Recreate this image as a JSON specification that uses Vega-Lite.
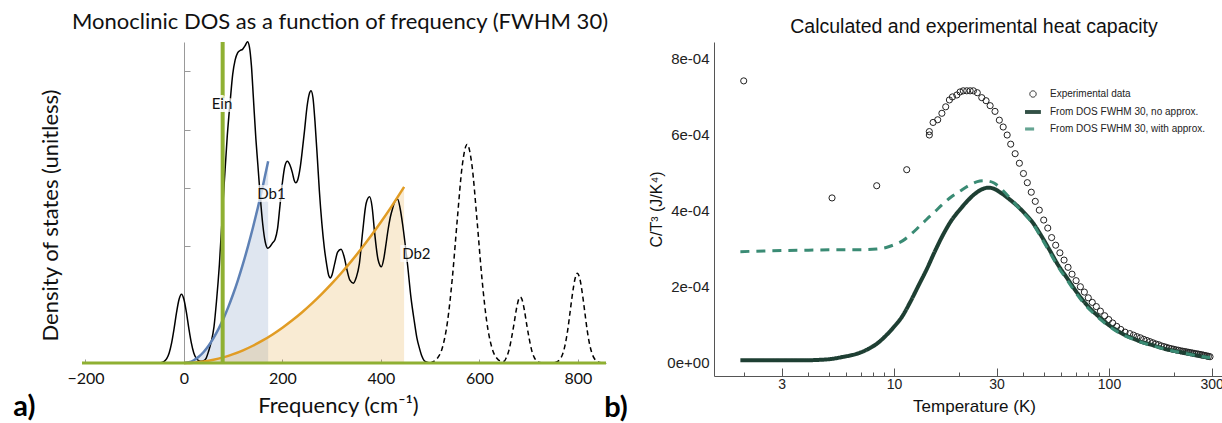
{
  "$schema": "https://vega.github.io/schema/vega-lite/v6.json",
  "background": "white",
  "padding": {"left": 13, "top": 10, "right": 0, "bottom": 0},
  "spacing": 108,
  "bounds": "flush",
  "config": {"view": {"stroke": null}, "axis": {"grid": false}, "title": {"fontWeight": "normal"}},
  "datasets": {
    "dosS": [
      {"f": -207, "v": 0}, {"f": -60, "v": 0}, {"f": -50, "v": 0.002}, {"f": -45, "v": 0.0085}, {"f": -40, "v": 0.027},
      {"f": -35, "v": 0.074}, {"f": -30, "v": 0.172}, {"f": -25, "v": 0.345}, {"f": -20, "v": 0.59}, {"f": -15, "v": 0.867},
      {"f": -10, "v": 1.09}, {"f": -5, "v": 1.18}, {"f": 0, "v": 1.09}, {"f": 5, "v": 0.867}, {"f": 10, "v": 0.59},
      {"f": 15, "v": 0.345}, {"f": 20, "v": 0.172}, {"f": 25, "v": 0.08}, {"f": 30, "v": 0.04}, {"f": 35, "v": 0.03},
      {"f": 40, "v": 0.04}, {"f": 45, "v": 0.08}, {"f": 50, "v": 0.2}, {"f": 55, "v": 0.35}, {"f": 61, "v": 0.62},
      {"f": 66, "v": 1.05}, {"f": 72, "v": 1.69}, {"f": 80, "v": 2.84}, {"f": 88, "v": 3.9}, {"f": 94, "v": 4.5},
      {"f": 99, "v": 4.95}, {"f": 104, "v": 5.2}, {"f": 109, "v": 5.32}, {"f": 114, "v": 5.36}, {"f": 119, "v": 5.38},
      {"f": 124, "v": 5.44}, {"f": 129, "v": 5.51}, {"f": 133, "v": 5.42}, {"f": 137, "v": 5.1}, {"f": 141, "v": 4.55},
      {"f": 146, "v": 3.85}, {"f": 150, "v": 3.41}, {"f": 155, "v": 2.85}, {"f": 160, "v": 2.38}, {"f": 165, "v": 2.08},
      {"f": 170, "v": 1.97}, {"f": 175, "v": 2.0}, {"f": 180, "v": 2.06}, {"f": 185, "v": 2.12}, {"f": 190, "v": 2.3},
      {"f": 195, "v": 2.7}, {"f": 200, "v": 3.1}, {"f": 205, "v": 3.38}, {"f": 210, "v": 3.46}, {"f": 215, "v": 3.4},
      {"f": 220, "v": 3.27}, {"f": 224, "v": 3.13}, {"f": 227, "v": 3.09}, {"f": 231, "v": 3.14}, {"f": 236, "v": 3.35},
      {"f": 240, "v": 3.62}, {"f": 245, "v": 4.0}, {"f": 250, "v": 4.4}, {"f": 254, "v": 4.6}, {"f": 258, "v": 4.67},
      {"f": 262, "v": 4.55}, {"f": 266, "v": 4.15}, {"f": 271, "v": 3.5}, {"f": 275, "v": 2.95}, {"f": 280, "v": 2.4},
      {"f": 285, "v": 1.98}, {"f": 290, "v": 1.68}, {"f": 294, "v": 1.5}, {"f": 297, "v": 1.46}, {"f": 301, "v": 1.52},
      {"f": 306, "v": 1.7}, {"f": 312, "v": 1.9}, {"f": 319, "v": 1.95}, {"f": 325, "v": 1.83}, {"f": 331, "v": 1.6},
      {"f": 337, "v": 1.42}, {"f": 344, "v": 1.37}, {"f": 350, "v": 1.47}, {"f": 356, "v": 1.69}, {"f": 363, "v": 2.26},
      {"f": 370, "v": 2.74}, {"f": 377, "v": 2.85}, {"f": 382, "v": 2.68}, {"f": 387, "v": 2.25}, {"f": 394, "v": 1.78},
      {"f": 401, "v": 1.65}, {"f": 406, "v": 1.8}, {"f": 410, "v": 2.02}, {"f": 414, "v": 2.26}, {"f": 419, "v": 2.5},
      {"f": 424, "v": 2.66}, {"f": 429, "v": 2.78}, {"f": 434, "v": 2.81}, {"f": 439, "v": 2.65}, {"f": 444, "v": 2.38},
      {"f": 449, "v": 2.05}, {"f": 454, "v": 1.69}, {"f": 461, "v": 1.12}, {"f": 468, "v": 0.7}, {"f": 473, "v": 0.43},
      {"f": 478, "v": 0.26}, {"f": 483, "v": 0.12}, {"f": 488, "v": 0.04}, {"f": 495, "v": 0.01}, {"f": 500, "v": 0}
    ],
    "dosD": [
      {"f": 500, "v": 0}, {"f": 505, "v": 0.02}, {"f": 515, "v": 0.085}, {"f": 525, "v": 0.27}, {"f": 535, "v": 0.7},
      {"f": 545, "v": 1.46}, {"f": 555, "v": 2.46}, {"f": 565, "v": 3.38}, {"f": 575, "v": 3.75}, {"f": 585, "v": 3.38},
      {"f": 595, "v": 2.46}, {"f": 605, "v": 1.46}, {"f": 615, "v": 0.7}, {"f": 625, "v": 0.27}, {"f": 635, "v": 0.085},
      {"f": 645, "v": 0.03}, {"f": 650, "v": 0.03}, {"f": 655, "v": 0.1}, {"f": 660, "v": 0.22}, {"f": 665, "v": 0.42},
      {"f": 670, "v": 0.66}, {"f": 675, "v": 0.92}, {"f": 680, "v": 1.1}, {"f": 683, "v": 1.13}, {"f": 686, "v": 1.1},
      {"f": 691, "v": 0.92}, {"f": 696, "v": 0.66}, {"f": 701, "v": 0.42}, {"f": 706, "v": 0.22}, {"f": 711, "v": 0.1},
      {"f": 716, "v": 0.035}, {"f": 722, "v": 0.008}, {"f": 730, "v": 0}, {"f": 750, "v": 0.004}, {"f": 754, "v": 0.009},
      {"f": 759, "v": 0.026}, {"f": 764, "v": 0.068}, {"f": 769, "v": 0.154}, {"f": 774, "v": 0.31}, {"f": 779, "v": 0.55},
      {"f": 784, "v": 0.87}, {"f": 789, "v": 1.19}, {"f": 794, "v": 1.44}, {"f": 799, "v": 1.54}, {"f": 804, "v": 1.44},
      {"f": 809, "v": 1.19}, {"f": 814, "v": 0.87}, {"f": 819, "v": 0.55}, {"f": 824, "v": 0.31}, {"f": 829, "v": 0.154},
      {"f": 834, "v": 0.068}, {"f": 839, "v": 0.026}, {"f": 844, "v": 0.009}, {"f": 855, "v": 0}
    ],
    "db1": [
      {"f": 0, "v": 0}, {"f": 10, "v": 0.0118}, {"f": 20, "v": 0.0473}, {"f": 30, "v": 0.1065}, {"f": 40, "v": 0.1893},
      {"f": 50, "v": 0.2958}, {"f": 60, "v": 0.426}, {"f": 70, "v": 0.58}, {"f": 80, "v": 0.757}, {"f": 90, "v": 0.958},
      {"f": 100, "v": 1.183}, {"f": 110, "v": 1.432}, {"f": 120, "v": 1.704}, {"f": 130, "v": 2.0}, {"f": 140, "v": 2.319},
      {"f": 150, "v": 2.662}, {"f": 160, "v": 3.029}, {"f": 171, "v": 3.46}
    ],
    "db2": [
      {"f": 0, "v": 0}, {"f": 20, "v": 0.006}, {"f": 40, "v": 0.0242}, {"f": 60, "v": 0.0544}, {"f": 80, "v": 0.0967},
      {"f": 100, "v": 0.151}, {"f": 120, "v": 0.218}, {"f": 140, "v": 0.296}, {"f": 160, "v": 0.387}, {"f": 180, "v": 0.49},
      {"f": 200, "v": 0.605}, {"f": 220, "v": 0.732}, {"f": 240, "v": 0.871}, {"f": 260, "v": 1.022}, {"f": 280, "v": 1.185},
      {"f": 300, "v": 1.36}, {"f": 320, "v": 1.548}, {"f": 340, "v": 1.747}, {"f": 360, "v": 1.959}, {"f": 380, "v": 2.182},
      {"f": 400, "v": 2.418}, {"f": 420, "v": 2.666}, {"f": 440, "v": 2.926}, {"f": 447, "v": 3.02}
    ],
    "base": [{"f": -207, "v": 0}, {"f": 857, "v": 0}],
    "ein": [{"f": 78.6, "v": 0, "v2": 5.506}],
    "labs": [
      {"f": 77.2, "v": 4.44, "label": "Ein"},
      {"f": 177.7, "v": 2.9, "label": "Db1"},
      {"f": 472, "v": 1.875, "label": "Db2"}
    ],
    "exp": [
      {"T": 2.0, "v": 7.4}, {"T": 5.15, "v": 4.33}, {"T": 8.31, "v": 4.65}, {"T": 11.46, "v": 5.07}, {"T": 14.6, "v": 6.07},
      {"T": 14.6, "v": 5.98}, {"T": 15.2, "v": 6.31}, {"T": 15.97, "v": 6.38}, {"T": 16.7, "v": 6.55}, {"T": 17.4, "v": 6.72},
      {"T": 18.1, "v": 6.9}, {"T": 18.7, "v": 6.98}, {"T": 19.6, "v": 7.03}, {"T": 20.3, "v": 7.11}, {"T": 21.0, "v": 7.14},
      {"T": 21.8, "v": 7.14}, {"T": 22.6, "v": 7.14}, {"T": 23.4, "v": 7.14}, {"T": 24.4, "v": 7.09}, {"T": 25.6, "v": 6.96},
      {"T": 26.8, "v": 6.88}, {"T": 28.0, "v": 6.75}, {"T": 29.5, "v": 6.6}, {"T": 30.9, "v": 6.37}, {"T": 32.2, "v": 6.19},
      {"T": 33.6, "v": 5.98}, {"T": 34.9, "v": 5.74}, {"T": 36.6, "v": 5.49}, {"T": 38.3, "v": 5.24}, {"T": 40.0, "v": 4.97},
      {"T": 41.7, "v": 4.73}, {"T": 43.5, "v": 4.48}, {"T": 45.4, "v": 4.24}, {"T": 47.4, "v": 4.01}, {"T": 49.7, "v": 3.75},
      {"T": 51.9, "v": 3.54}, {"T": 54.1, "v": 3.29}, {"T": 56.5, "v": 3.09}, {"T": 59.1, "v": 2.89}, {"T": 61.8, "v": 2.7},
      {"T": 64.5, "v": 2.51}, {"T": 67.3, "v": 2.33}, {"T": 70.3, "v": 2.16}, {"T": 73.6, "v": 2.0}, {"T": 76.8, "v": 1.86},
      {"T": 80.1, "v": 1.71}, {"T": 83.6, "v": 1.59}, {"T": 87.3, "v": 1.48}, {"T": 91.2, "v": 1.36}, {"T": 95.5, "v": 1.24},
      {"T": 99.7, "v": 1.14}, {"T": 104, "v": 1.05}, {"T": 108.6, "v": 0.96}, {"T": 113.4, "v": 0.88}, {"T": 118.7, "v": 0.81},
      {"T": 125, "v": 0.77}, {"T": 130, "v": 0.73}, {"T": 135, "v": 0.69}, {"T": 140, "v": 0.66}, {"T": 145, "v": 0.62},
      {"T": 150, "v": 0.59}, {"T": 155, "v": 0.56}, {"T": 160, "v": 0.53}, {"T": 165, "v": 0.5}, {"T": 170, "v": 0.48},
      {"T": 175, "v": 0.45}, {"T": 180, "v": 0.43}, {"T": 185, "v": 0.41}, {"T": 190, "v": 0.39}, {"T": 195, "v": 0.375},
      {"T": 200, "v": 0.36}, {"T": 205, "v": 0.345}, {"T": 210, "v": 0.335}, {"T": 215, "v": 0.32}, {"T": 220, "v": 0.31},
      {"T": 225, "v": 0.3}, {"T": 230, "v": 0.29}, {"T": 235, "v": 0.28}, {"T": 240, "v": 0.27}, {"T": 245, "v": 0.26},
      {"T": 250, "v": 0.25}, {"T": 255, "v": 0.24}, {"T": 260, "v": 0.235}, {"T": 265, "v": 0.225}, {"T": 270, "v": 0.215},
      {"T": 275, "v": 0.205}, {"T": 280, "v": 0.195}, {"T": 285, "v": 0.185}, {"T": 290, "v": 0.175}, {"T": 295, "v": 0.165}
    ],
    "calcN": [
      {"T": 1.93, "v": 0.07}, {"T": 2.5, "v": 0.07}, {"T": 3, "v": 0.07}, {"T": 3.5, "v": 0.07}, {"T": 4, "v": 0.072},
      {"T": 4.4, "v": 0.08}, {"T": 5, "v": 0.1}, {"T": 5.8, "v": 0.16}, {"T": 6.4, "v": 0.21}, {"T": 6.95, "v": 0.27},
      {"T": 7.6, "v": 0.37}, {"T": 8.3, "v": 0.5}, {"T": 9.1, "v": 0.7}, {"T": 9.9, "v": 0.92}, {"T": 11, "v": 1.25},
      {"T": 11.9, "v": 1.6}, {"T": 13, "v": 2.03}, {"T": 14.2, "v": 2.46}, {"T": 15.5, "v": 2.93}, {"T": 16.9, "v": 3.36},
      {"T": 18.5, "v": 3.74}, {"T": 20.3, "v": 4.03}, {"T": 22.2, "v": 4.28}, {"T": 24.2, "v": 4.47}, {"T": 26, "v": 4.57},
      {"T": 27.5, "v": 4.6}, {"T": 29.2, "v": 4.57}, {"T": 31.1, "v": 4.48}, {"T": 34.7, "v": 4.28}, {"T": 37.3, "v": 4.13},
      {"T": 40, "v": 3.96}, {"T": 44.5, "v": 3.66}, {"T": 48.5, "v": 3.33}, {"T": 53.2, "v": 2.94}, {"T": 58, "v": 2.57},
      {"T": 63.6, "v": 2.24}, {"T": 69.5, "v": 1.92}, {"T": 76, "v": 1.63}, {"T": 83, "v": 1.39}, {"T": 90.8, "v": 1.19},
      {"T": 99, "v": 1.01}, {"T": 108.6, "v": 0.86}, {"T": 118, "v": 0.74}, {"T": 129.8, "v": 0.64}, {"T": 142, "v": 0.55},
      {"T": 155, "v": 0.49}, {"T": 170, "v": 0.42}, {"T": 185, "v": 0.36}, {"T": 200, "v": 0.32}, {"T": 222, "v": 0.27},
      {"T": 250, "v": 0.21}, {"T": 284, "v": 0.15}, {"T": 295, "v": 0.14}
    ],
    "calcW": [
      {"T": 1.93, "v": 2.92}, {"T": 2.5, "v": 2.94}, {"T": 3, "v": 2.95}, {"T": 4, "v": 2.96}, {"T": 5, "v": 2.97},
      {"T": 6, "v": 2.97}, {"T": 6.95, "v": 2.97}, {"T": 8.3, "v": 2.99}, {"T": 9.2, "v": 3.03}, {"T": 9.9, "v": 3.09},
      {"T": 11, "v": 3.21}, {"T": 11.9, "v": 3.36}, {"T": 13, "v": 3.56}, {"T": 14.2, "v": 3.77}, {"T": 15.5, "v": 3.97},
      {"T": 16.9, "v": 4.17}, {"T": 18.5, "v": 4.36}, {"T": 20.3, "v": 4.51}, {"T": 22.2, "v": 4.65}, {"T": 24.2, "v": 4.75},
      {"T": 26, "v": 4.78}, {"T": 27.5, "v": 4.77}, {"T": 29.2, "v": 4.72}, {"T": 31.1, "v": 4.6}, {"T": 34.7, "v": 4.32},
      {"T": 37.3, "v": 4.12}, {"T": 40, "v": 3.94}, {"T": 44.5, "v": 3.63}, {"T": 48.5, "v": 3.28}, {"T": 53.2, "v": 2.89},
      {"T": 58, "v": 2.52}, {"T": 63.6, "v": 2.19}, {"T": 69.5, "v": 1.87}, {"T": 76, "v": 1.58}, {"T": 83, "v": 1.35},
      {"T": 90.8, "v": 1.15}, {"T": 99, "v": 0.98}, {"T": 108.6, "v": 0.83}, {"T": 118, "v": 0.72}, {"T": 129.8, "v": 0.62},
      {"T": 142, "v": 0.54}, {"T": 155, "v": 0.47}, {"T": 170, "v": 0.41}, {"T": 185, "v": 0.35}, {"T": 200, "v": 0.31},
      {"T": 222, "v": 0.26}, {"T": 250, "v": 0.2}, {"T": 284, "v": 0.15}, {"T": 295, "v": 0.14}
    ]
  },
  "hconcat": [
    {
      "width": 524,
      "height": 321,
      "title": {"text": "Monoclinic DOS as a function of frequency (FWHM 30)", "font": "Lato", "fontSize": 22, "color": "#111", "dx": -4, "offset": 5},
      "encoding": {
        "x": {"field": "f", "type": "quantitative", "scale": {"domain": [-207, 857], "nice": false, "zero": false},
          "axis": {"title": "Frequency (cm⁻¹)", "values": [-200, 0, 200, 400, 600, 800], "tickSize": -4, "domainColor": "#999", "tickColor": "#999",
            "labelFont": "Lato", "labelFontSize": 16, "labelColor": "#111", "labelPadding": 11,
            "titleFont": "Lato", "titleFontSize": 22, "titleFontWeight": "normal", "titleColor": "#111", "titlePadding": 9, "titleX": 256}},
        "y": {"field": "v", "type": "quantitative", "scale": {"domain": [0, 5.506], "nice": false},
          "axis": {"title": "Density of states (unitless)", "values": [2, 3, 4, 5], "labels": false, "tickSize": -6, "offset": -102,
            "domainColor": "#999", "tickColor": "#999",
            "titleFont": "Lato", "titleFontSize": 22, "titleFontWeight": "normal", "titleColor": "#111", "titleX": -122, "titleY": 173}}
      },
      "layer": [
        {"data": {"name": "db1"}, "mark": {"type": "area", "color": "#5e81b5", "opacity": 0.2, "interpolate": "monotone"}},
        {"data": {"name": "db2"}, "mark": {"type": "area", "color": "#e19c24", "opacity": 0.2, "interpolate": "monotone"}},
        {"data": {"name": "dosS"}, "mark": {"type": "line", "color": "#000000", "strokeWidth": 1.5, "interpolate": "monotone"}},
        {"data": {"name": "dosD"}, "mark": {"type": "line", "color": "#000000", "strokeWidth": 1.5, "strokeDash": [5, 3.5], "interpolate": "monotone"}},
        {"data": {"name": "db1"}, "mark": {"type": "line", "color": "#5e81b5", "strokeWidth": 2.5, "interpolate": "monotone"}},
        {"data": {"name": "db2"}, "mark": {"type": "line", "color": "#e19c24", "strokeWidth": 2.5, "interpolate": "monotone"}},
        {"data": {"name": "base"}, "mark": {"type": "line", "color": "#8fb032", "strokeWidth": 3}},
        {"data": {"name": "ein"}, "mark": {"type": "rule", "color": "#8fb032", "strokeWidth": 4}, "encoding": {"y2": {"field": "v2"}}},
        {"data": {"name": "labs"}, "mark": {"type": "text", "font": "Lato", "fontSize": 15, "stroke": "white", "strokeWidth": 6, "strokeOpacity": 0.7, "fill": "white", "fillOpacity": 0.7}, "encoding": {"text": {"field": "label"}}},
        {"data": {"name": "labs"}, "mark": {"type": "text", "font": "Lato", "fontSize": 15, "color": "#111"}, "encoding": {"text": {"field": "label"}}},
        {"data": {"values": [{"f": -324, "v": -0.76, "label": "a)"}]}, "mark": {"type": "text", "font": "Lato", "fontSize": 29, "fontWeight": "bold", "color": "#000"}, "encoding": {"text": {"field": "label"}}}
      ]
    },
    {
      "width": 520,
      "height": 334,
      "title": {"text": "Calculated and experimental heat capacity", "font": "Liberation Sans", "fontSize": 19.5, "color": "#111", "offset": 5},
      "encoding": {
        "x": {"field": "T", "type": "quantitative", "scale": {"type": "log", "domain": [1.4549, 381.4], "nice": false},
          "axis": {"title": "Temperature (K)", "values": [2, 3, 4, 5, 6, 7, 8, 9, 10, 20, 30, 40, 50, 60, 70, 80, 90, 100, 200, 300],
            "format": "d", "labelExpr": "indexof([3,10,30,100,300], datum.value) >= 0 ? datum.label : ''", "labelOverlap": false, "labelFlush": false,
            "tickSize": {"condition": {"test": "indexof([3,10,30,100,300], datum.value) >= 0", "value": -8}, "value": -4},
            "domainColor": "#555", "tickColor": "#555", "labelFont": "Liberation Sans", "labelFontSize": 14, "labelColor": "#222", "labelPadding": 9,
            "titleFont": "Liberation Sans", "titleFontSize": 17, "titleFontWeight": "normal", "titleColor": "#111", "titlePadding": 3}},
        "y": {"field": "v", "type": "quantitative", "scale": {"domain": [-0.341, 8.42], "nice": false, "zero": false},
          "axis": {"title": "C/T³ (J/K⁴)", "values": [0, 2, 4, 6, 8], "labelExpr": "datum.value == 0 ? '0e+00' : datum.value + 'e-04'", "ticks": false,
            "domainColor": "#555", "labelFont": "Liberation Sans", "labelFontSize": 15, "labelColor": "#222", "labelPadding": 5,
            "titleFont": "Liberation Sans", "titleFontSize": 16, "titleFontWeight": "normal", "titleColor": "#111", "titlePadding": 2}}
      },
      "layer": [
        {"data": {"name": "exp"}, "mark": {"type": "point", "filled": false, "size": 38, "strokeWidth": 1, "opacity": 1},
          "encoding": {
            "color": {"datum": "Experimental data", "type": "nominal", "scale": {"domain": ["Experimental data", "From DOS FWHM 30, no approx.", "From DOS FWHM 30, with approx."], "range": ["#222222", "#1e3f33", "#3a8b74"]},
              "legend": {"title": null, "orient": "none", "legendX": 946, "legendY": 47, "padding": 0, "labelFont": "Liberation Sans", "labelFontSize": 10, "labelColor": "#222", "labelOffset": 12, "rowPadding": 7, "symbolSize": 40, "symbolStrokeWidth": 1}},
            "shape": {"datum": "Experimental data", "type": "nominal", "scale": {"domain": ["Experimental data", "From DOS FWHM 30, no approx.", "From DOS FWHM 30, with approx."],
                "range": ["circle", "M-2.5,-0.45H2.5M-2.5,-0.15H2.5M-2.5,0.15H2.5M-2.5,0.45H2.5", "M-2.5,-0.3H2.5M-2.5,0H2.5M-2.5,0.3H2.5"]},
              "legend": {"title": null, "orient": "none", "legendX": 946, "legendY": 47, "padding": 0, "labelFont": "Liberation Sans", "labelFontSize": 10, "labelColor": "#222", "labelOffset": 12, "rowPadding": 7, "symbolSize": 40, "symbolStrokeWidth": 1}}
          }},
        {"data": {"name": "calcN"}, "mark": {"type": "line", "strokeWidth": 4, "interpolate": "monotone"},
          "encoding": {
            "color": {"datum": "From DOS FWHM 30, no approx.", "type": "nominal"},
            "strokeDash": {"datum": "From DOS FWHM 30, no approx.", "type": "nominal", "scale": {"domain": ["Experimental data", "From DOS FWHM 30, no approx.", "From DOS FWHM 30, with approx."], "range": [[1, 0], [1, 0], [9, 7]]},
              "legend": {"title": null, "orient": "none", "legendX": 946, "legendY": 47, "padding": 0, "labelFont": "Liberation Sans", "labelFontSize": 10, "labelColor": "#222", "labelOffset": 12, "rowPadding": 7, "symbolSize": 40, "symbolStrokeWidth": 1}}
          }},
        {"data": {"name": "calcW"}, "mark": {"type": "line", "strokeWidth": 3, "interpolate": "monotone"},
          "encoding": {
            "color": {"datum": "From DOS FWHM 30, with approx.", "type": "nominal"},
            "strokeDash": {"datum": "From DOS FWHM 30, with approx.", "type": "nominal"}
          }},
        {"data": {"values": [{"T": 0.509, "v": -1.18, "label": "b)"}]}, "mark": {"type": "text", "font": "Lato", "fontSize": 29, "fontWeight": "bold", "color": "#000"}, "encoding": {"text": {"field": "label"}}}
      ]
    }
  ]
}
